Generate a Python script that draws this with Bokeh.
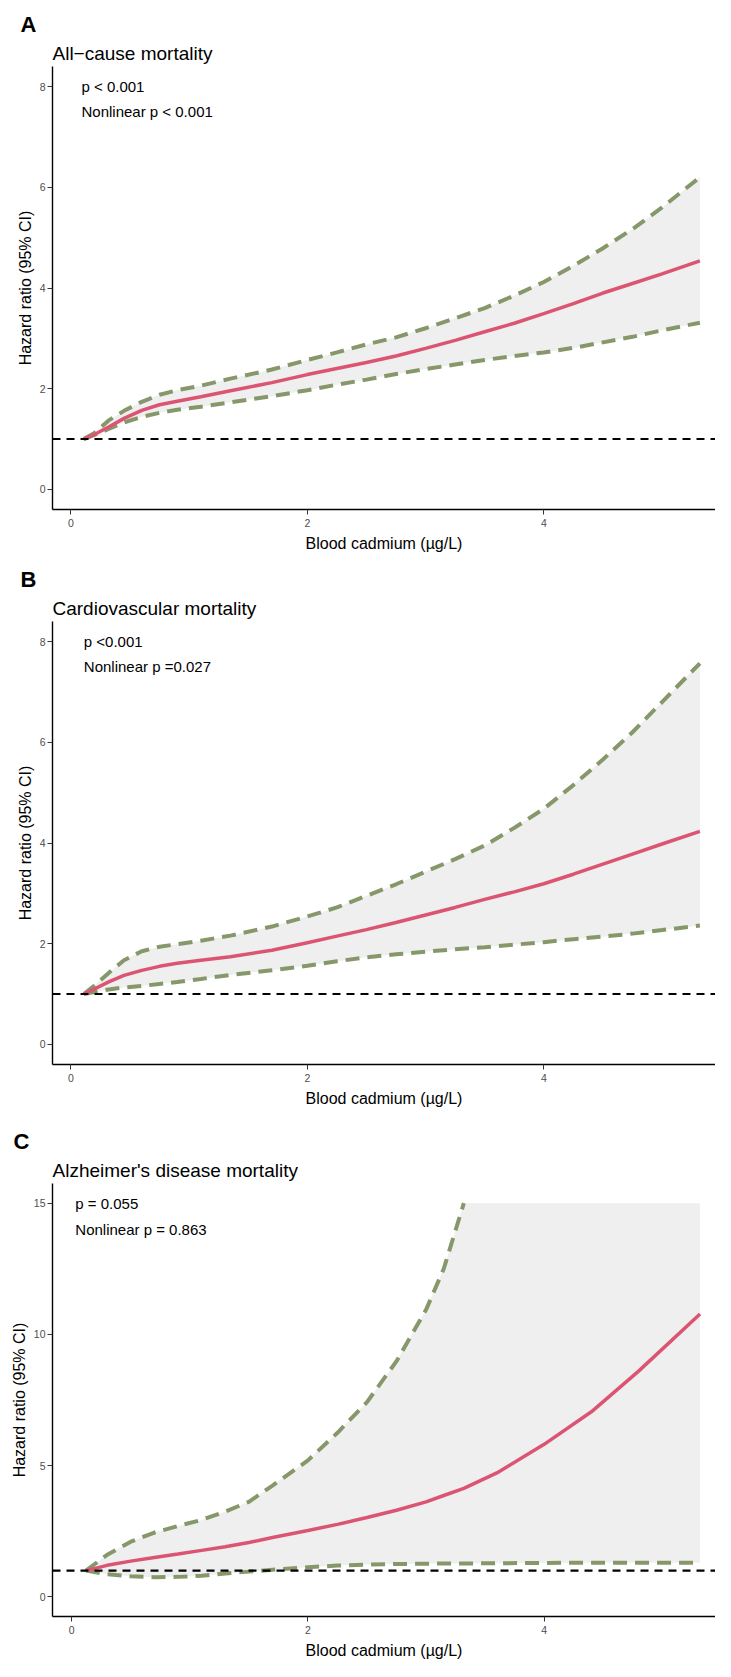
import math
from bokeh.plotting import figure
from bokeh.models import Label, Span, Range1d, FixedTicker, Title
from bokeh.layouts import column
from bokeh.embed import file_html
from bokeh.resources import INLINE

FONT = "Liberation Sans"
RED = "#DB5573"
GREEN = "#86986A"
BAND = "#EFEFEF"

# ---------------- data ----------------
# Panel A: all-cause mortality
a_x = [0.11, 0.2, 0.32, 0.45, 0.6, 0.75, 0.9, 1.1, 1.35, 1.7, 2.0, 2.25, 2.5, 2.75, 3.0, 3.25,
       3.5, 3.75, 4.0, 4.25, 4.5, 4.75, 5.0, 5.32]
a_hr = [1.0, 1.09, 1.24, 1.41, 1.57, 1.68, 1.75, 1.84, 1.96, 2.12, 2.28, 2.40, 2.52, 2.65, 2.80, 2.96,
        3.13, 3.30, 3.49, 3.69, 3.90, 4.09, 4.28, 4.54]
a_lo = [1.0, 1.08, 1.20, 1.33, 1.44, 1.52, 1.58, 1.64, 1.73, 1.85, 1.97, 2.08, 2.18, 2.29, 2.39, 2.48,
        2.57, 2.65, 2.72, 2.81, 2.92, 3.03, 3.16, 3.31]
a_hi = [1.0, 1.12, 1.37, 1.56, 1.74, 1.88, 1.97, 2.06, 2.20, 2.38, 2.57, 2.72, 2.88, 3.02, 3.20, 3.40,
        3.60, 3.85, 4.12, 4.44, 4.79, 5.17, 5.60, 6.20]

# Panel B: cardiovascular mortality
b_x = [0.11, 0.2, 0.32, 0.45, 0.6, 0.75, 0.9, 1.1, 1.35, 1.7, 2.0, 2.25, 2.5, 2.75, 3.0, 3.25,
       3.5, 3.75, 4.0, 4.25, 4.5, 4.75, 5.0, 5.32]
b_hr = [1.0, 1.10, 1.24, 1.37, 1.47, 1.55, 1.61, 1.67, 1.74, 1.87, 2.02, 2.15, 2.28, 2.42, 2.57, 2.72,
        2.88, 3.03, 3.19, 3.38, 3.58, 3.78, 3.98, 4.23]
b_lo = [1.0, 1.04, 1.09, 1.13, 1.16, 1.20, 1.24, 1.30, 1.38, 1.47, 1.56, 1.65, 1.73, 1.79, 1.84, 1.89,
        1.93, 1.98, 2.03, 2.09, 2.14, 2.20, 2.27, 2.36]
b_hi = [1.0, 1.17, 1.42, 1.67, 1.85, 1.94, 1.99, 2.06, 2.16, 2.34, 2.54, 2.72, 2.95, 3.18, 3.43, 3.68,
        3.95, 4.30, 4.68, 5.15, 5.66, 6.20, 6.80, 7.57]

# Panel C: Alzheimer's disease mortality (upper CI leaves the plot above 15)
c_x = [0.12, 0.3, 0.5, 0.7, 0.9, 1.1, 1.3, 1.5, 1.7, 2.0, 2.25, 2.5, 2.75, 3.0, 3.15, 3.32,
       3.6, 4.0, 4.4, 4.8, 5.32]
c_hr = [1.0, 1.20, 1.36, 1.50, 1.63, 1.77, 1.91, 2.07, 2.26, 2.53, 2.76, 3.02, 3.30, 3.62, 3.86, 4.13,
        4.72, 5.81, 7.05, 8.60, 10.78]
c_lo = [1.0, 0.86, 0.78, 0.75, 0.76, 0.80, 0.89, 0.96, 1.03, 1.13, 1.19, 1.23, 1.25, 1.26, 1.27, 1.27,
        1.28, 1.29, 1.30, 1.30, 1.30]
c_hi = [1.0, 1.60, 2.10, 2.45, 2.70, 2.93, 3.25, 3.62, 4.24, 5.20, 6.25, 7.42, 8.98, 10.94, 12.50, 15.0,
        float("nan"), float("nan"), float("nan"), float("nan"), float("nan")]
c_cap = 15.0

letters = ["A", "B", "C"]
titles = ["All\u2212cause mortality", "Cardiovascular mortality", "Alzheimer's disease mortality"]
p_texts = [["p < 0.001", "Nonlinear p < 0.001"],
           ["p <0.001", "Nonlinear p =0.027"],
           ["p = 0.055", "Nonlinear p = 0.863"]]
p_x = [0.09, 0.11, 0.03]
p_y = [[8, 7.5], [8, 7.5], [15, 14]]
x_ticks = [0, 2, 4]
y_ticks_ab = [0, 2, 4, 6, 8]
y_ticks_c = [0, 5, 10, 15]
ref_hr = 1.0
x_label = "Blood cadmium (\u00b5g/L)"
y_label = "Hazard ratio (95% CI)"


def make_panel(letter, title, xs, hr, lo, hi, band_top, ptxt, px, py,
               xr, yr, yticks, width, height, bl, bt, bb):
    p = figure(width=width, height=height, output_backend="svg", toolbar_location=None,
               x_range=Range1d(*xr), y_range=Range1d(*yr),
               min_border_left=bl, min_border_right=0, min_border_top=bt, min_border_bottom=bb)
    p.outline_line_color = None
    p.xgrid.visible = False
    p.ygrid.visible = False
    p.background_fill_color = "white"
    p.border_fill_color = "white"

    # panel letter (outer) and panel title (next to the frame)
    p.title.text = letter
    p.title.align = "left"
    p.title.offset = -(bl - 13)
    p.title.text_font = FONT
    p.title.text_font_size = "22px"
    p.title.text_font_style = "bold"
    p.title.text_color = "black"
    p.title.standoff = 2
    p.add_layout(Title(text=title, align="left", text_font=FONT, text_font_size="19px",
                       text_font_style="normal", text_color="black", standoff=6), "above")

    for ax, ticks in ((p.xaxis[0], x_ticks), (p.yaxis[0], yticks)):
        ax.ticker = FixedTicker(ticks=ticks)
        ax.minor_tick_line_color = None
        ax.axis_line_color = "black"
        ax.axis_line_width = 1.4
        ax.major_tick_line_color = "#333333"
        ax.major_tick_line_width = 1
        ax.major_tick_out = 5
        ax.major_tick_in = 0
        ax.major_label_standoff = 2
        ax.major_label_text_font = FONT
        ax.major_label_text_font_size = "10.5px"
        ax.major_label_text_color = "#4D4D4D"
        ax.axis_label_text_font = FONT
        ax.axis_label_text_font_size = "16px"
        ax.axis_label_text_font_style = "normal"
        ax.axis_label_text_color = "black"
        ax.axis_label_standoff = 3
    p.xaxis[0].axis_label = x_label
    p.xaxis[0].major_label_standoff = 4
    p.xaxis[0].axis_label_standoff = 5
    p.yaxis[0].axis_label = y_label

    p.varea(x=xs, y1=lo, y2=band_top, fill_color=BAND)
    p.add_layout(Span(location=ref_hr, dimension="width", line_color="black",
                      line_width=2.2, line_dash="8 6"))
    p.line(xs, lo, line_color=GREEN, line_width=4, line_dash="14 8")
    p.line(xs, hi, line_color=GREEN, line_width=4, line_dash="14 8")
    p.line(xs, hr, line_color=RED, line_width=3.5)

    for t, yv in zip(ptxt, py):
        p.add_layout(Label(x=px, y=yv, text=t, text_font=FONT, text_font_size="15px",
                           text_color="black", text_baseline="middle", text_align="left"))
    return p


band_a = a_hi
band_b = b_hi
band_c = [min(v, c_cap) if not math.isnan(v) else c_cap for v in c_hi]

pa = make_panel(letters[0], titles[0], a_x, a_hr, a_lo, a_hi, band_a, p_texts[0], p_x[0], p_y[0],
                (-0.155, 5.452), (-0.4, 8.4), y_ticks_ab, 715, 555, 45, 66, 46)
pb = make_panel(letters[1], titles[1], b_x, b_hr, b_lo, b_hi, band_b, p_texts[1], p_x[1], p_y[1],
                (-0.155, 5.452), (-0.4, 8.4), y_ticks_ab, 715, 555, 45, 66, 46)
pc = make_panel(letters[2], titles[2], c_x, c_hr, c_lo, c_hi, band_c, p_texts[2], p_x[2], p_y[2],
                (-0.163, 5.451), (-0.75, 15.75), y_ticks_c, 715, 551, 52, 73, 45)

layout = column(pa, pb, pc, spacing=0)
open("out.html", "w").write(file_html(layout, INLINE))
